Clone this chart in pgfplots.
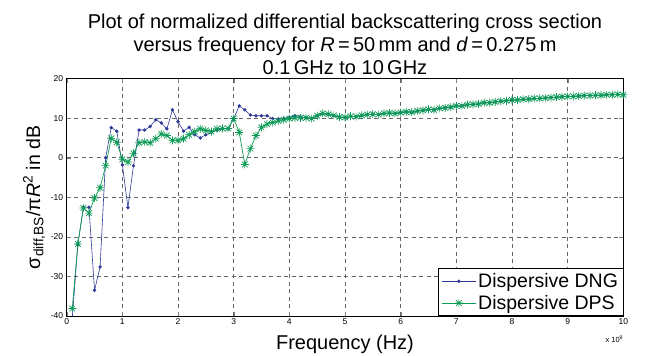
\documentclass[border=0pt]{standalone}
\usepackage{pgfplots}
\pgfplotsset{compat=1.18}
\usepackage{fontspec}
\setmainfont{Liberation Sans}
\definecolor{dngblue}{RGB}{45,55,150}
\definecolor{dpsgreen}{RGB}{12,155,85}
\pgfdeclareplotmark{mstar}{%
  \pgfpathmoveto{\pgfqpoint{-\pgfplotmarksize}{0pt}}\pgfpathlineto{\pgfqpoint{\pgfplotmarksize}{0pt}}%
  \pgfpathmoveto{\pgfqpoint{0pt}{-\pgfplotmarksize}}\pgfpathlineto{\pgfqpoint{0pt}{\pgfplotmarksize}}%
  \pgfpathmoveto{\pgfqpoint{-0.707\pgfplotmarksize}{-0.707\pgfplotmarksize}}\pgfpathlineto{\pgfqpoint{0.707\pgfplotmarksize}{0.707\pgfplotmarksize}}%
  \pgfpathmoveto{\pgfqpoint{-0.707\pgfplotmarksize}{0.707\pgfplotmarksize}}\pgfpathlineto{\pgfqpoint{0.707\pgfplotmarksize}{-0.707\pgfplotmarksize}}%
  \pgfusepathqstroke}
\pgfplotstableread{
f dng dps
0.1 -40.5 -38.1
0.2 -22.0 -21.8
0.3 -12.5 -12.7
0.4 -12.5 -14.0
0.5 -33.5 -10.2
0.6 -27.6 -7.6
0.7 0.0 -2.0
0.8 7.6 4.9
0.9 6.7 3.9
1.0 -1.8 -0.4
1.1 -12.6 -1.1
1.2 -2.0 1.1
1.3 7.0 3.8
1.4 7.0 4.0
1.5 7.9 3.8
1.6 9.6 4.8
1.7 8.8 6.0
1.8 7.3 5.6
1.9 12.1 4.4
2.0 9.1 4.4
2.1 6.7 4.8
2.2 7.7 5.8
2.3 5.8 6.6
2.4 5.0 7.3
2.5 5.8 6.9
2.6 6.4 6.6
2.7 7.0 7.3
2.8 7.3 7.4
2.9 7.3 7.4
3.0 9.9 9.9
3.1 13.1 6.4
3.2 12.1 -1.7
3.3 10.8 2.3
3.4 10.6 5.6
3.5 10.6 7.7
3.6 10.6 8.5
3.7 9.9 8.9
3.8 9.8 9.3
3.9 9.9 9.6
4.0 10.2 9.9
4.1 10.6 10.1
4.2 10.4 10.1
4.3 10.1 10.1
4.4 9.9 9.9
4.5 10.6 10.6
4.6 11.1 11.2
4.7 11.0 11.0
4.8 10.6 10.7
4.9 10.3 10.3
5.0 10.2 10.2
5.1 10.5 10.5
5.2 10.4 10.4
5.3 10.7 10.7
5.4 10.9 10.9
5.5 11.0 11.0
5.6 10.9 10.9
5.7 11.2 11.2
5.8 11.3 11.3
5.9 11.2 11.2
6.0 11.4 11.4
6.1 11.6 11.6
6.2 11.5 11.5
6.3 11.8 11.8
6.4 12.0 12.0
6.5 12.2 12.2
6.6 12.1 12.1
6.7 12.5 12.5
6.8 12.6 12.6
6.9 12.8 12.8
7.0 13.1 13.1
7.1 13.1 13.1
7.2 13.4 13.4
7.3 13.5 13.5
7.4 13.6 13.6
7.5 13.9 13.9
7.6 13.9 13.9
7.7 14.1 14.1
7.8 14.3 14.3
7.9 14.4 14.4
8.0 14.6 14.6
8.1 14.6 14.6
8.2 14.8 14.8
8.3 14.8 14.8
8.4 15.0 15.0
8.5 15.0 15.0
8.6 15.1 15.1
8.7 15.2 15.2
8.8 15.3 15.3
8.9 15.4 15.4
9.0 15.5 15.5
9.1 15.5 15.5
9.2 15.6 15.6
9.3 15.7 15.7
9.4 15.7 15.7
9.5 15.8 15.8
9.6 15.8 15.8
9.7 15.9 15.9
9.8 15.9 15.9
9.9 16.0 16.0
10.0 15.9 15.9
}\datatable
\begin{document}
\begin{tikzpicture}
\path[use as bounding box] (-66.7pt,-40pt) rectangle (579.3pt,316pt);
\begin{axis}[
  name=main,
  at={(0pt,0pt)}, anchor=south west,
  scale only axis, width=556.6pt, height=237.4pt,
  xmin=0, xmax=10, ymin=-40, ymax=20,
  xtick={0,1,...,10}, ytick={-40,-30,...,20},
  /pgf/number format/assume math mode=true,
  ticklabel style={font=\fontsize{8.5}{10}\selectfont},
  xticklabel style={yshift=1pt},
  tick align=inside, major tick length=4pt,
  grid=major,
  major grid style={dash pattern=on 4pt off 3.5pt, gray!80!black, line width=0.6pt},
  axis line style={line width=0.6pt},
  xlabel={Frequency (Hz)},
  xlabel style={font=\fontsize{20}{22}\selectfont, yshift=-4pt},
  ylabel={σ\textsubscript{diff,BS}/π\textit{R}\textsuperscript{2} in dB},
  ylabel style={font=\fontsize{19.5}{22}\selectfont, yshift=-1pt},
  title={Plot of normalized differential backscattering cross section\\versus frequency for \textit{R}\,=\,50\,mm and \textit{d}\,=\,0.275\,m\\0.1\,GHz to 10\,GHz},
  title style={font=\fontsize{20}{23}\selectfont, align=center, yshift=-6pt},
  legend style={at={(1,0)}, anchor=south east, font=\fontsize{19.5}{21}\selectfont, draw=black, line width=0.6pt, inner xsep=3pt, inner ysep=3pt, row sep=2pt},
  legend cell align=left,
  legend image code/.code={\draw[mark repeat=2, mark phase=2, #1] plot coordinates {(0pt,0pt) (17pt,0pt) (34pt,0pt)};},
  clip=true,
]
\addplot[dngblue, line width=0.6pt, mark=*, mark size=1.4pt] table[x=f,y=dng]{\datatable};
\addlegendentry{Dispersive DNG}
\addplot[dpsgreen, line width=0.7pt, mark=mstar, mark size=4pt] table[x=f,y=dps]{\datatable};
\addlegendentry{Dispersive DPS}
\end{axis}
\node[anchor=north east, font=\fontsize{7.5}{9}\selectfont, inner sep=0pt] at ([yshift=-20pt]main.south east) {x 10\textsuperscript{9}};
\end{tikzpicture}
\end{document}
